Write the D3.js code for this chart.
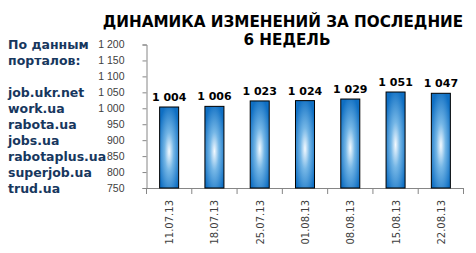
<!DOCTYPE html>
<html>
<head>
<meta charset="utf-8">
<script src="https://cdn.jsdelivr.net/npm/d3@7"></script>
<style>
  body { margin: 0; background: #fff; }
  svg { display: block; font-family: "DejaVu Sans", Verdana, sans-serif; }
  .axis path, .axis line { stroke: #868686; }
  .axis text { fill: #404040; font-size: 10.5px; }
</style>
</head>
<body>
<div id="chart"></div>
<script>
// Weekly dates and values
var weeks = ["11.07.13", "18.07.13", "25.07.13", "01.08.13", "08.08.13", "15.08.13", "22.08.13"];
var counts = [1004, 1006, 1023, 1024, 1029, 1051, 1047];
var yTicks = [750, 800, 850, 900, 950, 1000, 1050, 1100, 1150, 1200];
var titleLines = ["ДИНАМИКА ИЗМЕНЕНИЙ ЗА ПОСЛЕДНИЕ", "6 НЕДЕЛЬ"];
var sourceLines = ["По данным", "порталов:", "", "job.ukr.net", "work.ua", "rabota.ua", "jobs.ua", "rabotaplus.ua", "superjob.ua", "trud.ua"];

var data = weeks.map(function(w, i) { return {week: w, count: counts[i]}; });

var width = 476, height = 253;
var svg = d3.select('#chart').append('svg')
  .attr('width', width)
  .attr('height', height);

// bar gradient: dark blue edges, light centre
var defs = svg.append('defs');
var grad = defs.append('radialGradient')
  .attr('id', 'barGrad')
  .attr('cx', 0.5).attr('cy', 0.55).attr('r', 0.6);
grad.append('stop').attr('offset', '0%').attr('stop-color', '#f4faff');
grad.append('stop').attr('offset', '40%').attr('stop-color', '#74b6e6');
grad.append('stop').attr('offset', '100%').attr('stop-color', '#0f6fc3');

// number format with space as thousands separator
var fmt = d3.formatLocale({decimal: ",", thousands: " ", grouping: [3], currency: ["", ""]}).format(",d");

var y = d3.scaleLinear()
  .domain([750, 1200])
  .range([188, 44.5]);

var x = d3.scaleBand()
  .domain(weeks)
  .range([146.5, 463.5])
  .paddingInner(0.58)
  .paddingOuter(0.29);

// title
svg.append('g').selectAll('text')
  .data(titleLines)
  .enter().append('text')
  .attr('x', function(d, i) { return i == 0 ? 283 : 287; })
  .attr('y', function(d, i) { return 27 + i * 18; })
  .attr('text-anchor', 'middle')
  .style('font-size', '15.2px')
  .style('font-weight', 'bold')
  .style('fill', '#000')
  .text(function(d) { return d; });

// source list on the left
svg.append('g').selectAll('text')
  .data(sourceLines)
  .enter().append('text')
  .attr('x', 8)
  .attr('y', function(d, i) { return 44.5 + i * (188 - 44.5) / 9 + 4.5; })
  .style('font-size', '12.5px')
  .style('font-weight', 'bold')
  .style('fill', '#17375e')
  .text(function(d) { return d; });

// y axis
var yAxis = d3.axisLeft(y)
  .tickValues(yTicks)
  .tickSize(4)
  .tickPadding(18)
  .tickFormat(fmt);

svg.append('g')
  .attr('class', 'axis')
  .attr('transform', 'translate(146.5,0)')
  .call(yAxis);

// x axis line and ticks between categories
var gx = svg.append('g').attr('class', 'axis');
gx.append('line')
  .attr('x1', x.range()[0]).attr('x2', x.range()[1])
  .attr('y1', y(750) + 0.5).attr('y2', y(750) + 0.5);

var bounds = weeks.map(function(w) { return x(w) + x.bandwidth() / 2 - x.step() / 2; });
bounds.push(x.range()[1]);
gx.selectAll('.tick')
  .data(bounds)
  .enter().append('line')
  .attr('x1', function(d) { return d; })
  .attr('x2', function(d) { return d; })
  .attr('y1', y(750))
  .attr('y2', y(750) + 6);

gx.selectAll('.lbl')
  .data(weeks)
  .enter().append('text')
  .attr('transform', function(d) {
    return 'translate(' + (x(d) + x.bandwidth() / 2 + 4) + ',' + 200 + ') rotate(-90)';
  })
  .attr('text-anchor', 'end')
  .style('font-size', '10px')
  .text(function(d) { return d; });

// bars
var bars = svg.selectAll('.bar')
  .data(data)
  .enter()
  .append('g');

bars.append('rect')
  .attr('x', function(d) { return x(d.week); })
  .attr('y', function(d) { return y(d.count); })
  .attr('width', x.bandwidth())
  .attr('height', function(d) { return y(750) - y(d.count); })
  .attr('fill', 'url(#barGrad)')
  .attr('stroke', '#000')
  .attr('stroke-width', 1);

bars.append('text')
  .attr('x', function(d) { return x(d.week) + x.bandwidth() / 2; })
  .attr('y', function(d) { return y(d.count) - 6; })
  .attr('text-anchor', 'middle')
  .style('font-size', '11px')
  .style('font-weight', 'bold')
  .text(function(d) { return fmt(d.count); });
</script>
</body>
</html>
